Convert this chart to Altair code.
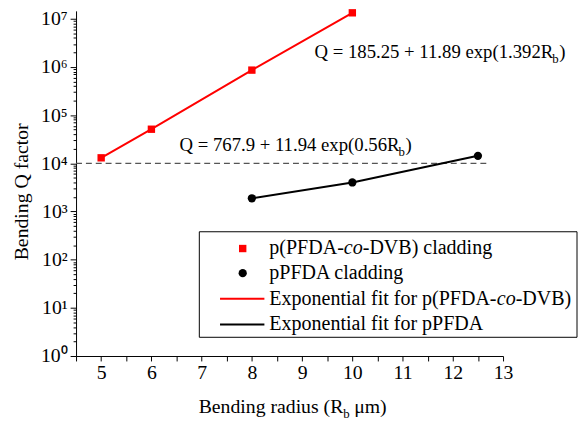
import altair as alt
import pandas as pd

# ---------------- data ----------------
radius_red = [5, 6, 8, 10]
q_red = [1.30e4, 5.1e4, 8.6e5, 1.33e7]

radius_black = [8, 10, 12.5]
q_black = [1.88e3, 4.0e3, 1.43e4]

threshold_q = [1.0e4]
threshold_x = [4.5]
threshold_x2 = [12.74]

x_domain = [4.5, 13]
y_domain = [1, 1.46e7]
x_ticks = [4.5, 5, 5.5, 6, 6.5, 7, 7.5, 8, 8.5, 9, 9.5, 10, 10.5, 11, 11.5, 12, 12.5, 13]
y_ticks = [m * 10 ** k for k in range(7) for m in range(1, 10)] + [1e7]

# annotation texts (anchor = end of the "R" before the subscript)
ann_main = ["Q = 185.25 + 11.89 exp(1.392R", "Q = 767.9 + 11.94 exp(0.56R"]
ann_x = [14.0, 10.94]
ann_q = [1.52e6, 1.81e4]

legend_labels = ["p(PFDA-co-DVB) cladding", "pPFDA cladding",
                 "Exponential fit for p(PFDA-co-DVB)", "Exponential fit for pPFDA"]

FONT = "Liberation Serif"
RED = "#ff0000"
FS = 20
LFS = 20.3

red_df = pd.DataFrame({"r": radius_red, "q": q_red})
black_df = pd.DataFrame({"r": radius_black, "q": q_black})
thr_df = pd.DataFrame({"r": threshold_x, "r2": threshold_x2, "q": threshold_q})
ann_df = pd.DataFrame({"r": ann_x, "q": ann_q, "t": ann_main})
one = pd.DataFrame({"a": [0]})

xscale = alt.Scale(domain=x_domain, nice=False, zero=False)
yscale = alt.Scale(type="log", domain=y_domain, nice=False)

is_major = "abs(log(datum.value)/LN10 - round(log(datum.value)/LN10)) < 0.001"
exp_ = "round(log(datum.value)/LN10)"

x_axis = alt.Axis(
    values=x_ticks,
    labelExpr="datum.value % 1 == 0 ? format(datum.value, 'd') : ''",
    tickSize=5, tickColor="black", domainColor="black", domainWidth=1,
    labelFont=FONT, labelFontSize=FS, labelColor="black", labelPadding=2,
    labelFlush=False, labelOverlap=False, grid=False, title=None,
)
y_axis = alt.Axis(
    values=y_ticks,
    labelExpr=f"{is_major} ? '10' + substring('⁰¹²³⁴⁵⁶⁷', {exp_}, {exp_} + 1) : ''",
    tickSize={"condition": {"test": is_major, "value": 6}, "value": 3},
    tickColor="black", domainColor="black", domainWidth=1,
    labelFont=FONT, labelFontSize=FS, labelColor="black", labelPadding=3,
    labelFlush=False, labelOverlap=False, grid=False,
    title="Bending Q factor", titleFont=FONT, titleFontSize=FS,
    titleFontWeight="normal", titleColor="black",
    titleX=-49, titleY=183, titleBaseline="alphabetic", titleAlign="center",
)

def X():
    return alt.X("r:Q", scale=xscale, axis=x_axis)

def Y():
    return alt.Y("q:Q", scale=yscale, axis=y_axis)

red_line = alt.Chart(red_df).mark_line(color=RED, strokeWidth=2).encode(x=X(), y=Y())
red_pts = alt.Chart(red_df).mark_point(shape="square", filled=True, size=56,
                                       color=RED, opacity=1).encode(x=X(), y=Y())
black_line = alt.Chart(black_df).mark_line(color="black", strokeWidth=2).encode(
    x=X(), y=Y())
black_pts = alt.Chart(black_df).mark_point(shape="circle", filled=True, size=70,
                                           color="black", opacity=1).encode(x=X(), y=Y())
thr = alt.Chart(thr_df).mark_rule(color="#555555", strokeWidth=1.3,
                                  strokeDash=[6, 4]).encode(
    x=X(), x2="r2:Q", y=Y())

ann_base = alt.Chart(ann_df)
ann_text = ann_base.mark_text(align="right", baseline="alphabetic", font=FONT,
                              fontSize=19, color="black").encode(
    x=X(), y=Y(), text="t:N")
ann_sub = ann_base.mark_text(align="left", baseline="alphabetic", font=FONT,
                             fontSize=13, color="black", dx=-1, dy=5).encode(
    x=X(), y=Y(), text=alt.value("b"))
ann_close = ann_base.mark_text(align="left", baseline="alphabetic", font=FONT,
                               fontSize=19, color="black", dx=6).encode(
    x=X(), y=Y(), text=alt.value(")"))

# x-axis title with subscript
xt_anchor, xt_base = 271, 408
xt1 = alt.Chart(one).mark_text(align="right", baseline="alphabetic", font=FONT,
                               fontSize=FS, color="black").encode(
    x=alt.value(xt_anchor), y=alt.value(xt_base), text=alt.value("Bending radius (R"))
xt2 = alt.Chart(one).mark_text(align="left", baseline="alphabetic", font=FONT,
                               fontSize=13, color="black").encode(
    x=alt.value(xt_anchor), y=alt.value(xt_base + 5), text=alt.value("b"))
xt3 = alt.Chart(one).mark_text(align="left", baseline="alphabetic", font=FONT,
                               fontSize=FS, color="black").encode(
    x=alt.value(xt_anchor + 11), y=alt.value(xt_base), text=alt.value("μm)"))

# legend box
leg_rect = alt.Chart(one).mark_rect(fill="white", stroke="black", strokeWidth=1).encode(
    x=alt.value(125), x2=alt.value(508), y=alt.value(224), y2=alt.value(331))
rows = [241, 266, 292, 318]
sym_x, line_x1, line_x2, lab_x = 169, 146, 191, 196
leg_sq = alt.Chart(one).mark_point(shape="square", filled=True, size=56, color=RED,
                                   opacity=1).encode(x=alt.value(sym_x), y=alt.value(rows[0]))
leg_ci = alt.Chart(one).mark_point(shape="circle", filled=True, size=70, color="black",
                                   opacity=1).encode(x=alt.value(sym_x), y=alt.value(rows[1]))
leg_l1 = alt.Chart(one).mark_rule(color=RED, strokeWidth=2).encode(
    x=alt.value(line_x1), x2=alt.value(line_x2), y=alt.value(rows[2]))
leg_l2 = alt.Chart(one).mark_rule(color="black", strokeWidth=2).encode(
    x=alt.value(line_x1), x2=alt.value(line_x2), y=alt.value(rows[3]))

def ltxt(s, x, y, italic=False):
    return alt.Chart(one).mark_text(align="left", baseline="middle", font=FONT,
                                    fontSize=LFS, color="black",
                                    fontStyle="italic" if italic else "normal").encode(
        x=alt.value(x), y=alt.value(y), text=alt.value(s))

w_pre = 3.722 * LFS      # "p(PFDA-"
w_co = 0.944 * LFS       # "co" italic
w_exp = 7.638 * LFS      # "Exponential fit for "

lab1, lab2, lab3, lab4 = legend_labels
legend_texts = [
    ltxt("p(PFDA-", lab_x, rows[0]),
    ltxt("co", lab_x + w_pre, rows[0], True),
    ltxt("-DVB) cladding", lab_x + w_pre + w_co, rows[0]),
    ltxt(lab2, lab_x, rows[1]),
    ltxt("Exponential fit for p(PFDA-", lab_x, rows[2]),
    ltxt("co", lab_x + w_exp + w_pre, rows[2], True),
    ltxt("-DVB)", lab_x + w_exp + w_pre + w_co, rows[2]),
    ltxt(lab4, lab_x, rows[3]),
]

chart = alt.layer(
    red_line, thr, red_pts, black_line, black_pts,
    ann_text, ann_sub, ann_close,
    xt1, xt2, xt3,
    leg_rect, leg_sq, leg_ci, leg_l1, leg_l2, *legend_texts,
).properties(
    width=433, height=350,
    padding={"left": 69, "top": 0, "right": 76, "bottom": 64},
    autosize=alt.AutoSizeParams(type="none"),
    background="white",
).configure_view(stroke=None)

chart.save("out.html", embed_options={"renderer": "svg", "actions": False})
